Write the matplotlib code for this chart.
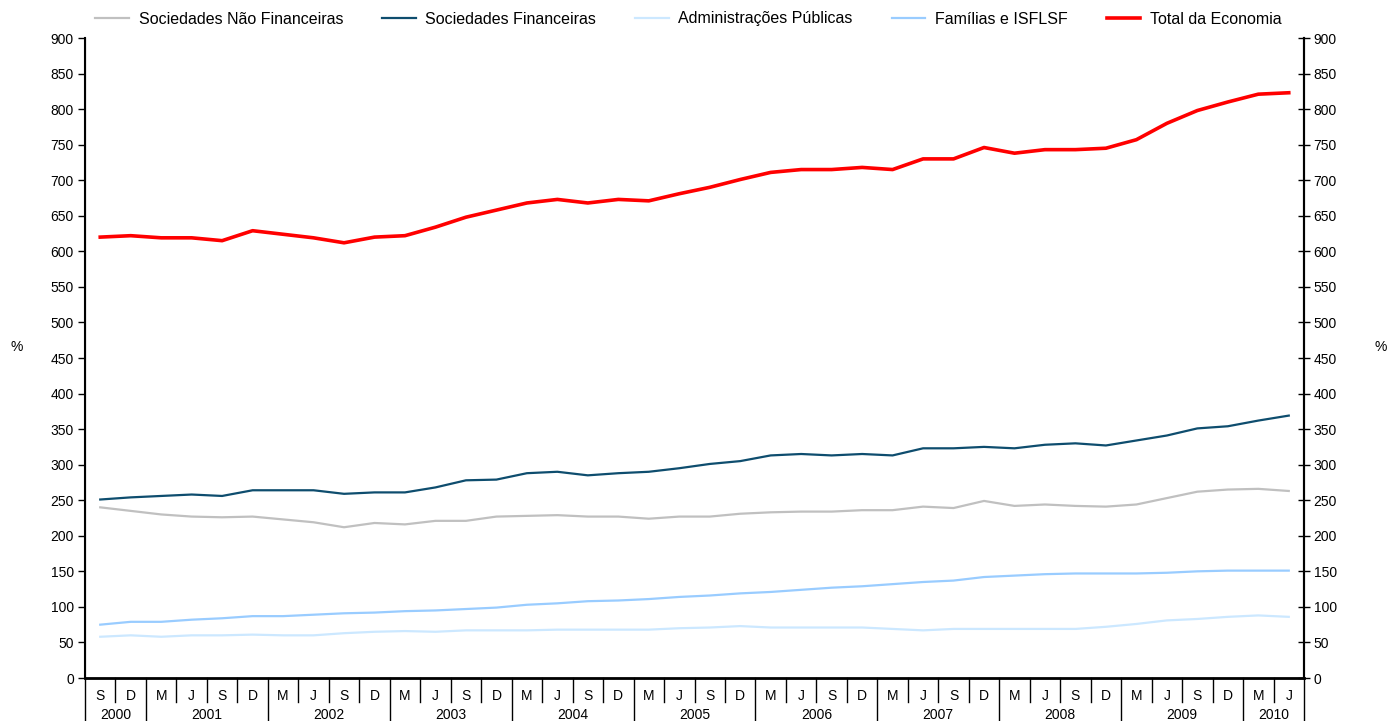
import matplotlib
matplotlib.use("Agg")
import matplotlib.pyplot as plt
import numpy as np

quarters = ["S", "D"] + ["M", "J", "S", "D"] * 9 + ["M", "J"]
years = ["2000", "2001", "2002", "2003", "2004", "2005", "2006", "2007", "2008", "2009", "2010"]
year_counts = [2, 4, 4, 4, 4, 4, 4, 4, 4, 4, 2]

snf = [240, 235, 230, 227, 226, 227, 223, 219, 212, 218, 216, 221, 221, 227, 228, 229, 227, 227, 224, 227,
       227, 231, 233, 234, 234, 236, 236, 241, 239, 249, 242, 244, 242, 241, 244, 253, 262, 265, 266, 263]
sf = [251, 254, 256, 258, 256, 264, 264, 264, 259, 261, 261, 268, 278, 279, 288, 290, 285, 288, 290, 295,
      301, 305, 313, 315, 313, 315, 313, 323, 323, 325, 323, 328, 330, 327, 334, 341, 351, 354, 362, 369]
ap = [58, 60, 58, 60, 60, 61, 60, 60, 63, 65, 66, 65, 67, 67, 67, 68, 68, 68, 68, 70,
      71, 73, 71, 71, 71, 71, 69, 67, 69, 69, 69, 69, 69, 72, 76, 81, 83, 86, 88, 86]
fam = [75, 79, 79, 82, 84, 87, 87, 89, 91, 92, 94, 95, 97, 99, 103, 105, 108, 109, 111, 114,
       116, 119, 121, 124, 127, 129, 132, 135, 137, 142, 144, 146, 147, 147, 147, 148, 150, 151, 151, 151]
total = [620, 622, 619, 619, 615, 629, 624, 619, 612, 620, 622, 634, 648, 658, 668, 673, 668, 673, 671, 681,
         690, 701, 711, 715, 715, 718, 715, 730, 730, 746, 738, 743, 743, 745, 757, 780, 798, 810, 821, 823]

series = [
    ("Sociedades Não Financeiras", snf, "#C0C0C0", 1.6),
    ("Sociedades Financeiras", sf, "#0E4D6E", 1.6),
    ("Administrações Públicas", ap, "#CCE8FF", 1.6),
    ("Famílias e ISFLSF", fam, "#99CCFF", 1.6),
    ("Total da Economia", total, "#FF0000", 2.6),
]

plt.rcParams['font.family'] = ['Liberation Sans', 'DejaVu Sans']

fig = plt.figure(figsize=(13.89, 7.21), dpi=100)
ax = fig.add_axes([85 / 1389, 1 - 678 / 721, (1304 - 85) / 1389, 640 / 721])

x = np.arange(len(quarters))
for name, vals, color, lw in series:
    ax.plot(x, vals, color=color, lw=lw, label=name, solid_joinstyle='round')

ax.set_xlim(-0.5, len(quarters) - 0.5)
ax.set_ylim(0, 900)
yt = np.arange(0, 901, 50)
ax.set_yticks(yt)
ax.tick_params(axis='y', direction='out', length=5, width=1, labelsize=10, pad=3)
ax.set_xticks(x)
ax.set_xticklabels(quarters, fontsize=10)
ax.tick_params(axis='x', length=0, pad=8)

ax.spines['top'].set_visible(False)
ax.spines['bottom'].set_linewidth(2)
ax.spines['left'].set_linewidth(1.5)
ax.spines['right'].set_linewidth(1.5)

ax2 = ax.twinx()
ax2.set_ylim(0, 900)
ax2.set_yticks(yt)
ax2.tick_params(axis='y', direction='inout', length=8, width=1, labelsize=10, pad=3)
ax2.spines['top'].set_visible(False)
ax2.spines['right'].set_linewidth(1.5)

fig.text(17 / 1389, 1 - 347 / 721, "%", fontsize=10, ha='center', va='center')
fig.text(1381 / 1389, 1 - 347 / 721, "%", fontsize=10, ha='center', va='center')

trans = ax.get_xaxis_transform()
bounds = np.cumsum([0] + year_counts) - 0.5
for b in np.arange(-0.5, len(quarters), 1.0):
    if np.any(np.isclose(b, bounds)):
        ax.plot([b, b], [0, -0.075], color='black', lw=1, transform=trans, clip_on=False)
    else:
        ax.plot([b, b], [0, -0.037], color='black', lw=1, transform=trans, clip_on=False)
for i, yr in enumerate(years):
    c = (bounds[i] + bounds[i + 1]) / 2
    ax.text(c, -0.058, yr, transform=trans, ha='center', va='center', fontsize=10)

handles, labels = ax.get_legend_handles_labels()
fig.legend(handles, labels, loc='center', bbox_to_anchor=(0.4957, 1 - 19 / 721), ncol=5,
           frameon=False, fontsize=11.5, handlelength=2.1, columnspacing=2.45, handletextpad=0.6)

fig.savefig("out.png", dpi=100)
